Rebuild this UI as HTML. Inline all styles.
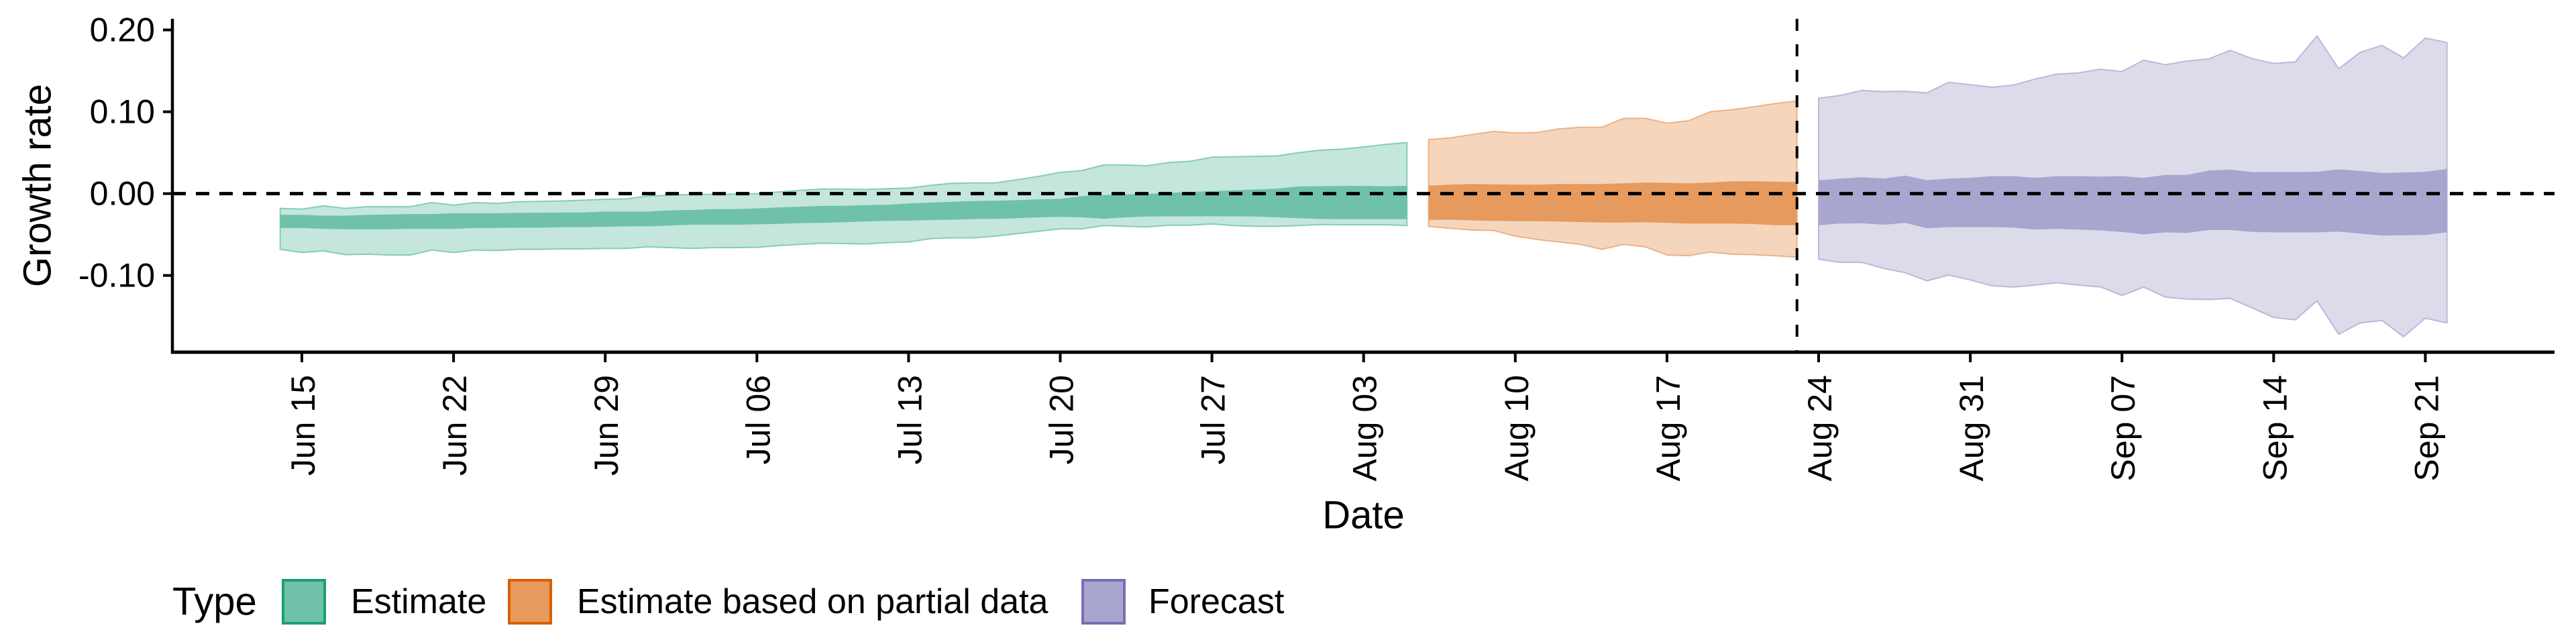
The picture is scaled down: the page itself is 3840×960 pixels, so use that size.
<!DOCTYPE html>
<html><head><meta charset="utf-8"><style>
html,body{margin:0;padding:0;background:#fff;}
svg{display:block;font-family:"Liberation Sans",Arial,sans-serif;}
</style></head><body>
<svg id="chart" width="3840" height="960" viewBox="0 0 3840 960" xmlns="http://www.w3.org/2000/svg">
<g id="bands"></g>
<g id="axes"></g>
<g id="legend"></g>
</svg>
<script>
// day 0 = Jun 15
const tickLabels = ["Jun 15","Jun 22","Jun 29","Jul 06","Jul 13","Jul 20","Jul 27","Aug 03","Aug 10","Aug 17","Aug 24","Aug 31","Sep 07","Sep 14","Sep 21"];
const tickDays = [0,7,14,21,28,35,42,49,56,63,70,77,84,91,98];
const yTicks = [0.20,0.10,0.00,-0.10];
const yTickLabels = ["0.20","0.10","0.00","-0.10"];
const forecastStartDay = 69;

const estStart = -1;
const estUpper90 = [-0.018,-0.019,-0.015,-0.018,-0.016,-0.016,-0.016,-0.011,-0.014,-0.011,-0.012,-0.010,-0.0095,-0.009,-0.008,-0.007,-0.0064,-0.003,-0.002,-0.001,-0.001,-0.0005,0.000,0.002,0.004,0.0056,0.0055,0.005,0.006,0.0067,0.010,0.0126,0.013,0.013,0.017,0.021,0.026,0.028,0.035,0.035,0.034,0.038,0.0395,0.0445,0.045,0.0455,0.046,0.050,0.053,0.0544,0.057,0.060,0.0624];
const estLower90 = [-0.068,-0.072,-0.070,-0.0746,-0.074,-0.075,-0.075,-0.069,-0.072,-0.069,-0.0695,-0.068,-0.068,-0.0675,-0.0675,-0.067,-0.067,-0.065,-0.066,-0.067,-0.066,-0.066,-0.0656,-0.0635,-0.062,-0.0606,-0.061,-0.0615,-0.060,-0.059,-0.055,-0.054,-0.054,-0.052,-0.049,-0.046,-0.043,-0.043,-0.039,-0.040,-0.0407,-0.0386,-0.0386,-0.037,-0.039,-0.040,-0.040,-0.039,-0.0378,-0.038,-0.038,-0.038,-0.039];
const estUpper50 = [-0.026,-0.026,-0.027,-0.027,-0.026,-0.0255,-0.025,-0.025,-0.024,-0.024,-0.024,-0.0235,-0.0234,-0.023,-0.023,-0.022,-0.022,-0.022,-0.0205,-0.020,-0.019,-0.019,-0.018,-0.017,-0.016,-0.015,-0.015,-0.014,-0.0138,-0.012,-0.011,-0.010,-0.009,-0.0088,-0.008,-0.007,-0.0064,-0.003,-0.002,-0.001,-0.0006,0.001,0.002,0.003,0.004,0.005,0.006,0.0088,0.009,0.0094,0.0094,0.009,0.0094];
const estLower50 = [-0.042,-0.042,-0.043,-0.0436,-0.0436,-0.0435,-0.043,-0.043,-0.043,-0.042,-0.042,-0.0416,-0.0416,-0.041,-0.041,-0.0405,-0.040,-0.040,-0.039,-0.038,-0.038,-0.038,-0.0375,-0.037,-0.036,-0.0357,-0.035,-0.034,-0.0334,-0.033,-0.0322,-0.032,-0.031,-0.031,-0.030,-0.029,-0.0284,-0.029,-0.0307,-0.029,-0.028,-0.0278,-0.0278,-0.0278,-0.0278,-0.028,-0.029,-0.030,-0.031,-0.0313,-0.0313,-0.0313,-0.0313];

const partStart = 52;
const partUpper90 = [0.066,0.068,0.072,0.076,0.074,0.0746,0.079,0.081,0.081,0.092,0.092,0.086,0.089,0.100,0.1025,0.106,0.110,0.113];
const partLower90 = [-0.040,-0.0424,-0.0445,-0.045,-0.052,-0.056,-0.059,-0.062,-0.068,-0.062,-0.065,-0.075,-0.0758,-0.0714,-0.074,-0.0746,-0.076,-0.0776];
const partUpper50 = [0.0097,0.011,0.0117,0.0114,0.011,0.011,0.0117,0.0117,0.0117,0.0126,0.0135,0.0132,0.0126,0.0135,0.015,0.015,0.0147,0.014];
const partLower50 = [-0.0322,-0.0319,-0.0328,-0.0334,-0.0337,-0.0337,-0.0342,-0.0348,-0.0354,-0.0354,-0.0351,-0.0357,-0.0366,-0.0366,-0.0366,-0.0372,-0.0386,-0.0386];

const fcStart = 70;
const fcUpper90 = [0.1165,0.120,0.126,0.1247,0.125,0.123,0.136,0.133,0.130,0.1326,0.140,0.146,0.1475,0.152,0.149,0.163,0.1575,0.162,0.1645,0.175,0.165,0.159,0.161,0.1926,0.1525,0.1727,0.181,0.1657,0.190,0.1847];
const fcLower90 = [-0.0802,-0.084,-0.084,-0.0913,-0.0966,-0.1066,-0.0995,-0.1054,-0.1127,-0.1142,-0.1118,-0.1089,-0.1118,-0.1139,-0.1244,-0.1142,-0.1265,-0.1288,-0.1294,-0.128,-0.1396,-0.1513,-0.1543,-0.1309,-0.1718,-0.158,-0.1551,-0.1748,-0.1522,-0.158];
const fcUpper50 = [0.0164,0.0184,0.0199,0.0184,0.022,0.0164,0.0184,0.0193,0.0214,0.0214,0.0193,0.0214,0.0214,0.0208,0.0214,0.0193,0.0228,0.0228,0.0281,0.0293,0.0263,0.0263,0.0263,0.0266,0.0296,0.0278,0.0252,0.0258,0.0266,0.0302];
const fcLower50 = [-0.0386,-0.0366,-0.0363,-0.038,-0.0357,-0.0424,-0.041,-0.041,-0.041,-0.0416,-0.0439,-0.043,-0.0439,-0.045,-0.0468,-0.0498,-0.0474,-0.048,-0.0445,-0.0445,-0.0468,-0.0474,-0.0474,-0.0474,-0.0465,-0.0489,-0.0512,-0.051,-0.0504,-0.0474];

const NS = "http://www.w3.org/2000/svg";
const PL = 257, PR = 3808, PT = 28, PB = 525;
const X0 = 450, PX_PER_DAY = 32.3;
const Y0 = 288.6, PX_PER_UNIT = 1220;
function xs(d){ return X0 + d*PX_PER_DAY; }
function ys(v){ return Y0 - v*PX_PER_UNIT; }
function mk(tag, attrs, parent){
  const e = document.createElementNS(NS, tag);
  for (const k in attrs) e.setAttribute(k, attrs[k]);
  parent.appendChild(e);
  return e;
}
function bandPoints(start, up, lo){
  const pts = [];
  for (let i=0;i<up.length;i++) pts.push(xs(start+i).toFixed(1)+","+ys(up[i]).toFixed(1));
  for (let i=lo.length-1;i>=0;i--) pts.push(xs(start+i).toFixed(1)+","+ys(lo[i]).toFixed(1));
  return pts.join(" ");
}
const bands = document.getElementById("bands");
const series = [
  {name:"estimate", start:estStart, u9:estUpper90, l9:estLower90, u5:estUpper50, l5:estLower50, light:"#c4e6dc", dark:"#6fc1aa", edge:"#86cdb6"},
  {name:"partial-estimate", start:partStart, u9:partUpper90, l9:partLower90, u5:partUpper50, l5:partLower50, light:"#f5d6bd", dark:"#e69a5e", edge:"#eeb185"},
  {name:"forecast", start:fcStart, u9:fcUpper90, l9:fcLower90, u5:fcUpper50, l5:fcLower50, light:"#dcdbea", dark:"#a8a5cf", edge:"#bbb8da"}
];
series.forEach(s=>{
  const o = mk("polygon",{points:bandPoints(s.start,s.u9,s.l9), fill:s.light, stroke:s.edge, "stroke-width":2, "stroke-linejoin":"round"}, bands);
  
  
  const i = mk("polygon",{points:bandPoints(s.start,s.u5,s.l5), fill:s.dark}, bands);
  
  
});

const axes = document.getElementById("axes");
const zl = mk("line",{x1:PL,x2:PR,y1:ys(0),y2:ys(0),stroke:"#000","stroke-width":5,"stroke-dasharray":"20 15"},axes);


const vl = mk("line",{x1:xs(forecastStartDay),x2:xs(forecastStartDay),y1:PT,y2:PB,stroke:"#000","stroke-width":4,"stroke-dasharray":"18 20"},axes);


const ya = mk("line",{x1:PL,x2:PL,y1:PT,y2:PB+2,stroke:"#000","stroke-width":4.5},axes);


const xa = mk("line",{x1:PL-2,x2:PR,y1:PB,y2:PB,stroke:"#000","stroke-width":5},axes);


yTicks.forEach((v,i)=>{
  const t = mk("line",{x1:PL-14,x2:PL,y1:ys(v),y2:ys(v),stroke:"#000","stroke-width":4},axes);
  
  
  const l = mk("text",{x:PL-26,y:ys(v),"font-size":50,"text-anchor":"end","dominant-baseline":"central",fill:"#000"},axes);
  l.textContent = yTickLabels[i];
  
  
});
tickDays.forEach((d,i)=>{
  const x = xs(d);
  const t = mk("line",{x1:x,x2:x,y1:PB,y2:PB+15,stroke:"#000","stroke-width":4},axes);
  
  
  const l = mk("text",{x:0,y:0,"font-size":50,"text-anchor":"end","dominant-baseline":"central",fill:"#000",transform:"translate("+(x+2)+","+(PB+34)+") rotate(-90)"},axes);
  l.textContent = tickLabels[i];
  
  
});
const yt = mk("text",{x:0,y:0,"font-size":58,"text-anchor":"middle","dominant-baseline":"central",transform:"translate(56,"+((PT+PB)/2)+") rotate(-90)"},axes);
yt.textContent = "Growth rate";


const xt = mk("text",{x:(PL+PR)/2,y:768,"font-size":58,"text-anchor":"middle","dominant-baseline":"central"},axes);
xt.textContent = "Date";



const legend = document.getElementById("legend");
const LY = 897;
const lt = mk("text",{x:257,y:LY,"font-size":58,"dominant-baseline":"central"},legend);
lt.textContent = "Type";


const legendItems = [
  {label:"Estimate", fill:"#6fc1aa", stroke:"#1b9e77", bx:422, tx:523},
  {label:"Estimate based on partial data", fill:"#e69a5e", stroke:"#d95f02", bx:759, tx:860},
  {label:"Forecast", fill:"#a8a5cf", stroke:"#7570b3", bx:1614, tx:1712}
];
legendItems.forEach(it=>{
  const g = mk("g",{},legend);
  
  
  const r = mk("rect",{x:it.bx,y:LY-32,width:62,height:64,fill:it.fill,stroke:it.stroke,"stroke-width":4},g);
  
  
  const t = mk("text",{x:it.tx,y:LY,"font-size":52,"dominant-baseline":"central"},g);
  t.textContent = it.label;
  
  
});
</script>
</body></html>
